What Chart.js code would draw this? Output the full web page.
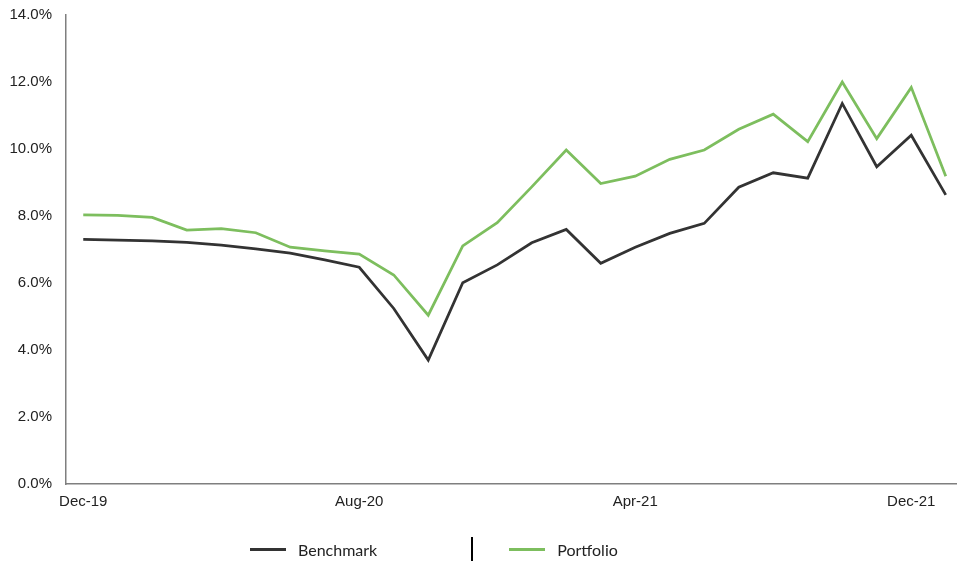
<!DOCTYPE html>
<html>
<head>
<meta charset="utf-8">
<script src="https://cdn.jsdelivr.net/npm/chart.js@4"></script>
<style>
  html, body { margin: 0; padding: 0; background: #fff; overflow: hidden; }
  #wrap { position: relative; width: 963px; height: 561px; }
  #legend {
    position: absolute; left: 250px; top: 537px; height: 24px;
    display: flex; align-items: center;
    font-family: Lato, "Open Sans", sans-serif; font-size: 16px; color: #222;
  }
  #legend .swatch { width: 36px; height: 3px; margin-right: 12px; }
  #legend .sep { width: 2px; height: 24px; background: #000; margin: 0 36px 0 94px; }
</style>
</head>
<body>
<div id="wrap">
  <canvas id="myChart"></canvas>
  <div id="legend"></div>
</div>
<script>
// categories: monthly, Dec-19 .. Jan-22
const months = ["Dec-19", "Jan-20", "Feb-20", "Mar-20", "Apr-20", "May-20", "Jun-20", "Jul-20",
  "Aug-20", "Sep-20", "Oct-20", "Nov-20", "Dec-20", "Jan-21", "Feb-21", "Mar-21",
  "Apr-21", "May-21", "Jun-21", "Jul-21", "Aug-21", "Sep-21", "Oct-21", "Nov-21",
  "Dec-21", "Jan-22"];

// series values (%)
const benchmark = [7.30, 7.28, 7.26, 7.21, 7.13, 7.02, 6.89, 6.69, 6.47, 5.24, 3.70, 6.01, 6.54,
  7.20, 7.60, 6.59, 7.07, 7.48, 7.78, 8.86, 9.29, 9.13, 11.36, 9.47, 10.41, 8.63];
const portfolio = [8.03, 8.02, 7.96, 7.58, 7.62, 7.50, 7.07, 6.96, 6.86, 6.24, 5.04, 7.11, 7.80,
  8.87, 9.97, 8.97, 9.19, 9.69, 9.97, 10.59, 11.04, 10.22, 12.00, 10.31, 11.84, 9.19];

// y tick values
const yTicks = [0, 2, 4, 6, 8, 10, 12, 14];

const tickFont = { family: "'Liberation Sans', Arial, sans-serif", size: 15 };

const config = {
  type: "line",
  data: {
    labels: months,
    datasets: [
      {
        label: "Benchmark",
        data: benchmark,
        borderColor: "#333333",
        backgroundColor: "#333333",
        borderWidth: 2.75,
        pointRadius: 0,
        tension: 0,
      },
      {
        label: "Portfolio",
        data: portfolio,
        borderColor: "#7dbe5e",
        backgroundColor: "#7dbe5e",
        borderWidth: 2.75,
        pointRadius: 0,
        tension: 0,
      },
    ],
  },
  options: {
    responsive: true,
    maintainAspectRatio: false,
    animation: false,
    layout: { padding: { top: 15, left: 0, right: 0, bottom: 0 } },
    plugins: {
      legend: { display: false },
      tooltip: { enabled: false },
    },
    scales: {
      x: {
        offset: true,
        grid: { display: false, drawTicks: false },
        border: { display: true, color: "#7f7f7f", width: 1.5 },
        ticks: {
          autoSkip: false,
          maxRotation: 0,
          padding: 9,
          color: "#222",
          font: tickFont,
          callback: function (val, i) {
            return i % 8 === 0 ? this.getLabelForValue(val) : "";
          },
        },
        afterFit: (s) => { s.height = 77; s.paddingLeft = 0; s.paddingRight = 0; },
      },
      y: {
        min: 0,
        max: 14,
        afterBuildTicks: (s) => { s.ticks = yTicks.map((v) => ({ value: v })); },
        grid: { display: false, drawTicks: false },
        border: { display: true, color: "#7f7f7f", width: 1.5 },
        ticks: {
          padding: 14,
          color: "#222",
          font: tickFont,
          callback: (v) => v.toFixed(1) + "%",
        },
        afterFit: (s) => { s.width = 66; s.paddingTop = 0; s.paddingBottom = 0; },
      },
    },
  },
};

const myChart = new Chart(document.getElementById("myChart"), config);

// html legend with separator between the two items
const legend = document.getElementById("legend");
myChart.data.datasets.forEach((ds, i) => {
  if (i > 0) {
    const sep = document.createElement("div");
    sep.className = "sep";
    legend.appendChild(sep);
  }
  const sw = document.createElement("div");
  sw.className = "swatch";
  sw.style.background = ds.borderColor;
  legend.appendChild(sw);
  const t = document.createElement("span");
  t.textContent = ds.label;
  legend.appendChild(t);
});
</script>
</body>
</html>
